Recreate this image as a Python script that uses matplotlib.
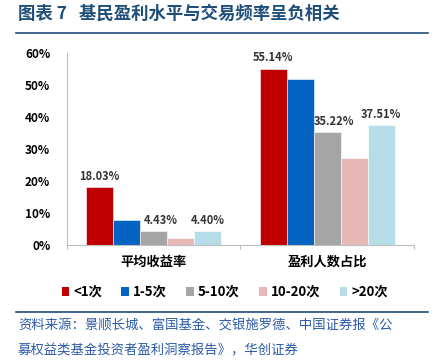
import numpy as np
import matplotlib.pyplot as plt
from matplotlib.lines import Line2D
from matplotlib.patches import Patch

plt.rcParams['font.family'] = ['Noto Sans CJK SC', 'DejaVu Sans']

# data
categories = ['平均收益率', '盈利人数占比']
series_names = ['<1次', '1-5次', '5-10次', '10-20次', '>20次']
values = [
    [18.03, 55.14],   # <1次
    [7.8, 51.9],      # 1-5次
    [4.43, 35.22],    # 5-10次
    [2.3, 27.3],      # 10-20次
    [4.40, 37.51],    # >20次
]
# which bars carry a value label
labelled = [
    [True, True],
    [False, False],
    [True, True],
    [False, False],
    [True, True],
]
colors = ['#C00000', '#0563C1', '#A5A5A5', '#E6B9B8', '#B7DEE8']

title = '图表 7   基民盈利水平与交易频率呈负相关'
source_lines = ['资料来源：景顺长城、富国基金、交银施罗德、中国证券报《公',
                '募权益类基金投资者盈利洞察报告》，华创证券']

fig = plt.figure(figsize=(4.39, 3.6), dpi=100)
ax = fig.add_axes([67 / 439, 1 - 245 / 360, (414 - 67) / 439, (245 - 53) / 360])

n = len(series_names)
w = 0.156
x = np.arange(len(categories))
for i in range(n):
    pos = x + (i - (n - 1) / 2) * w
    ax.bar(pos, values[i], width=w, color=colors[i], edgecolor='white', linewidth=0.4)
    for j in range(len(categories)):
        if labelled[i][j]:
            dx = 5 if i == 2 else 0   # gray labels sit a bit to the right
            ax.annotate(f'{values[i][j]:.2f}%', (pos[j], values[i][j]),
                        xytext=(dx, 3), textcoords='offset points',
                        ha='center', va='bottom', fontsize=8, fontweight='bold',
                        color='#333333')

ax.set_xlim(-0.5, 1.5)
ax.set_ylim(0, 60)
ax.set_yticks(np.arange(0, 61, 10))
ax.set_yticklabels([f'{v}%' for v in range(0, 61, 10)], fontsize=8.5, fontweight='bold')
ax.set_xticks([-0.5, 0.5, 1.5])
ax.set_xticklabels([])
ax.tick_params(axis='x', length=3, color='#BFBFBF')
ax.tick_params(axis='y', length=0, pad=12)
for i, c in enumerate(categories):
    ax.text(i, -5.3, c, ha='center', va='center', fontsize=9.5, fontweight='bold')
for s in ['top', 'right']:
    ax.spines[s].set_visible(False)
for s in ['left', 'bottom']:
    ax.spines[s].set_color('#BFBFBF')
    ax.spines[s].set_linewidth(0.8)

handles = [Patch(facecolor=c, edgecolor='none') for c in colors]
fig.legend(handles, series_names, loc='center', bbox_to_anchor=(0.512, 1 - 292 / 360),
           ncol=5, frameon=False, prop={'size': 9.5, 'weight': 'bold'},
           handlelength=0.6, handleheight=0.6, handletextpad=0.3, columnspacing=1.45)

# title and rules
fig.text(18 / 439, 1 - 14 / 360, title, fontsize=12.5, fontweight='bold',
         color='#1F4E79', va='center', ha='left')
fig.add_artist(Line2D([16 / 439, 428 / 439], [1 - 33 / 360] * 2, color='#1F4E79', lw=1.2))
fig.add_artist(Line2D([16 / 439, 428 / 439], [1 - 312 / 360] * 2, color='#1F4E79', lw=1.2))
for k, line in enumerate(source_lines):
    fig.text(18 / 439, 1 - (325 + 25 * k) / 360, line, fontsize=9.6, color='#2B5BA8',
             va='center', ha='left', style='italic')

fig.savefig('out.png', dpi=100)
